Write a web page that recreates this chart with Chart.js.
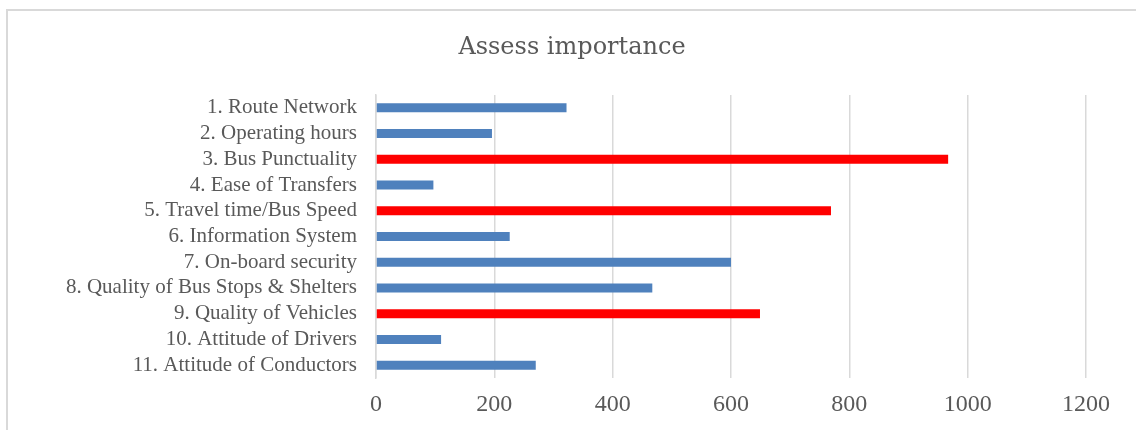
<!DOCTYPE html>
<html>
<head>
<meta charset="utf-8">
<script src="https://cdn.jsdelivr.net/npm/chart.js@4/dist/chart.umd.min.js"></script>
<style>
  html, body { margin: 0; padding: 0; background: #fff; }
  #wrap { position: relative; width: 1136px; height: 430px; overflow: hidden; }
  #frame { position: absolute; left: 6px; top: 9px; width: 1140px; height: 450px; border: 2px solid #D9D9D9; box-sizing: border-box; }
  #c { position: absolute; left: 0; top: 0; }
</style>
</head>
<body>
<div id="wrap">
  <div id="frame"></div>
  <canvas id="c" width="1136" height="430"></canvas>
</div>
<script>
const categories = [
  "1. Route Network",
  "2. Operating hours",
  "3. Bus Punctuality",
  "4. Ease of Transfers",
  "5. Travel time/Bus Speed",
  "6. Information System",
  "7. On-board security",
  "8. Quality of Bus Stops & Shelters",
  "9. Quality of Vehicles",
  "10. Attitude of Drivers",
  "11. Attitude of Conductors"
];
const values = [322, 196, 967, 97, 769, 226, 600, 467, 649, 110, 270];
const highlighted = [false, false, true, false, true, false, false, false, true, false, false];
const xTicks = [0, 200, 400, 600, 800, 1000, 1200];
const titleText = "Assess importance";

const BLUE = "#4F81BD", RED = "#FF0000", GRID = "#D9D9D9", TEXT = "#595959";
const SERIF = "'Liberation Serif', 'Times New Roman', serif";

new Chart(document.getElementById("c"), {
  type: "bar",
  data: {
    labels: categories,
    datasets: [{
      data: values,
      backgroundColor: highlighted.map(h => h ? RED : BLUE),
      borderWidth: 0,
      categoryPercentage: 1,
      barPercentage: 0.35
    }]
  },
  options: {
    indexAxis: "y",
    responsive: false,
    animation: false,
    layout: { padding: { left: 58, right: 50, top: 0, bottom: 10.6 } },
    plugins: {
      legend: { display: false },
      tooltip: { enabled: false },
      title: {
        display: true,
        text: titleText,
        color: TEXT,
        font: { family: "'DejaVu Serif', serif", size: 24, weight: "normal" },
        padding: { top: 33.1, bottom: 33.1 }
      }
    },
    scales: {
      x: {
        min: 0,
        max: 1200,
        afterBuildTicks: s => { s.ticks = xTicks.map(v => ({ value: v })); },
        afterFit: s => { s.height = 41.4; },
        grid: { color: GRID, lineWidth: 1.5, drawTicks: false },
        border: { display: false },
        ticks: {
          color: TEXT,
          padding: 12.6,
          maxRotation: 0,
          callback: v => String(v),
          font: { family: SERIF, size: 24 }
        }
      },
      y: {
        grid: { display: false, drawTicks: false },
        border: { display: true, color: GRID, width: 1.5 },
        afterFit: s => { s.width = 318; s.paddingTop = 0; s.paddingBottom = 0; },
        ticks: {
          color: TEXT,
          padding: 19,
          autoSkip: false,
          font: { family: SERIF, size: 21 }
        }
      }
    }
  }
});
</script>
</body>
</html>
